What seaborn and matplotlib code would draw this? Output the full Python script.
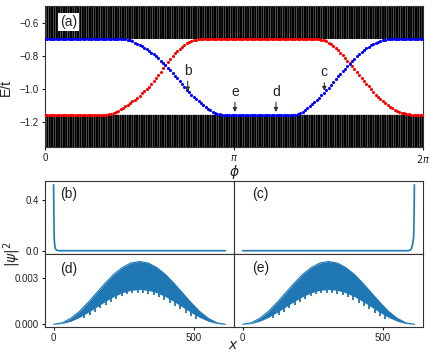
import numpy as np
import matplotlib
matplotlib.use("Agg")
import matplotlib.pyplot as plt
import seaborn as sns

# ---------------- data ----------------
phi_pi = np.linspace(0, 2, 161)          # phase grid, in units of pi

E_blue = ([-0.697] * 34 +
          [-0.698, -0.701, -0.706, -0.712, -0.719, -0.726, -0.733, -0.741, -0.749, -0.758,
           -0.768, -0.779, -0.790, -0.802, -0.814, -0.828, -0.842, -0.856, -0.871, -0.887,
           -0.903, -0.919, -0.935, -0.953, -0.971, -0.989, -1.006, -1.021, -1.036, -1.050,
           -1.063, -1.076, -1.088, -1.100, -1.111, -1.120, -1.129, -1.137, -1.144, -1.149,
           -1.153, -1.156] +
          [-1.157] * 30 +
          [-1.155, -1.152, -1.145, -1.137, -1.128, -1.116, -1.103, -1.091, -1.078, -1.065,
           -1.052, -1.037, -1.022, -1.007, -0.992, -0.975, -0.957, -0.940, -0.922, -0.907,
           -0.892, -0.877, -0.862, -0.847, -0.832, -0.817, -0.802, -0.789, -0.776, -0.763,
           -0.751, -0.743, -0.735, -0.728, -0.721, -0.715, -0.710, -0.706, -0.703, -0.700,
           -0.698] +
          [-0.697] * 14)

E_red = ([-1.157] * 26 +
         [-1.156, -1.153, -1.149, -1.144, -1.138, -1.131, -1.123, -1.115, -1.106, -1.097,
          -1.087, -1.076, -1.064, -1.052, -1.040, -1.027, -1.014, -1.000, -0.986, -0.969,
          -0.951, -0.933, -0.915, -0.895, -0.875, -0.855, -0.836, -0.818, -0.801, -0.785,
          -0.770, -0.757, -0.745, -0.733, -0.723, -0.715, -0.709, -0.704, -0.701, -0.698] +
         [-0.697] * 50 +
         [-0.699, -0.702, -0.706, -0.712, -0.720, -0.729, -0.740, -0.752, -0.766, -0.780,
          -0.795, -0.811, -0.828, -0.845, -0.862, -0.879, -0.896, -0.914, -0.932, -0.950,
          -0.968, -0.985, -1.002, -1.018, -1.034, -1.048, -1.062, -1.075, -1.087, -1.098,
          -1.108, -1.118, -1.126, -1.133, -1.139, -1.144, -1.148, -1.151, -1.154, -1.156] +
         [-1.157] * 5)

bulk_upper = (-0.697, -0.40)     # upper bulk band (bottom edge, beyond view)
bulk_lower = (-1.45, -1.157)     # lower bulk band (beyond view, top edge)

# arrows: label, phi (pi units), text E, tip E
arrow_labels = ["b", "c", "d", "e"]
arrow_phi = [0.755, 1.478, 1.222, 1.005]
arrow_text_E = [-0.891, -0.900, -1.018, -1.018]
arrow_tip_E = [-1.016, -1.012, -1.140, -1.140]

# (b) and (c) edge states
site_b = [0, 1, 2, 3, 4, 6, 8, 12, 16, 22, 612]
psi_b = [0.52, 0.30, 0.12, 0.07, 0.045, 0.02, 0.01, 0.003, 0.001, 0.0, 0.0]
site_c = [0, 590, 597, 601, 605, 609, 610, 611, 612]
psi_c = [0.0, 0.0, 0.005, 0.015, 0.045, 0.10, 0.16, 0.30, 0.52]

# (d) and (e) bulk states: envelopes of the fast oscillation
site_env = [0, 31, 61, 92, 122, 153, 184, 214, 245, 275, 306,
            337, 367, 398, 428, 459, 490, 520, 551, 581, 612]
psi_d_upper = [0, 0.00010, 0.00039, 0.00084, 0.00141, 0.00205, 0.00269, 0.00326, 0.00371, 0.00400, 0.00410,
               0.00400, 0.00371, 0.00326, 0.00269, 0.00205, 0.00141, 0.00084, 0.00039, 0.00010, 0]
psi_d_lower = [0, 0.00005, 0.00020, 0.00045, 0.00077, 0.00113, 0.00149, 0.00181, 0.00206, 0.00222, 0.00227,
               0.00222, 0.00206, 0.00181, 0.00149, 0.00113, 0.00077, 0.00045, 0.00020, 0.00005, 0]
psi_e_upper = list(psi_d_upper)
psi_e_lower = list(psi_d_lower)

spike_site = [110, 129, 148, 167, 186, 205, 224, 243, 262, 281, 300,
              319, 338, 357, 376, 395, 414, 433, 452, 471, 490, 509]
spike_d_bottom = [0.00043, 0.00062, 0.00083, 0.00105, 0.00127, 0.00148, 0.00167, 0.00183, 0.00195, 0.00203, 0.00207,
                  0.00206, 0.00201, 0.00192, 0.00178, 0.00161, 0.00141, 0.00119, 0.00097, 0.00075, 0.00055, 0.00037]
spike_e_bottom = list(spike_d_bottom)

# ---------------- style ----------------
sns.set_style("ticks")
plt.rcParams["font.family"] = ["Liberation Sans", "DejaVu Sans"]
plt.rcParams.update({
    "xtick.labelsize": 7, "ytick.labelsize": 7,
    "axes.labelsize": 10,
    "xtick.major.size": 2.5, "ytick.major.size": 2.5,
    "xtick.major.pad": 1.5, "ytick.major.pad": 2,
    "xtick.major.width": 0.8, "ytick.major.width": 0.8,
    "axes.linewidth": 0.8,
    "axes.edgecolor": "#333333",
    "xtick.color": "#222222", "ytick.color": "#222222",
    "text.color": "#222222", "axes.labelcolor": "#222222",
})

W, H = 436, 355
fig = plt.figure(figsize=(W / 100, H / 100), dpi=100)


def axes_px(x0, x1, y0, y1):
    return fig.add_axes([x0 / W, (H - y1) / H, (x1 - x0) / W, (y1 - y0) / H])


# ---------------- panel (a) ----------------
ax = axes_px(45, 423, 6, 147)
phi = phi_pi * np.pi
for lo, hi in (bulk_upper, bulk_lower):
    lc = ax.vlines(phi, lo, hi, color="black", lw=1.6, zorder=1)
    lc.set_snap(False)
sns.scatterplot(x=phi, y=E_red, color="#ff0000", s=5, linewidth=0, ax=ax, zorder=3)
sns.scatterplot(x=phi, y=E_blue, color="#0000ff", s=5, linewidth=0, ax=ax, zorder=3)
for lab, p, et, tip in zip(arrow_labels, arrow_phi, arrow_text_E, arrow_tip_E):
    ax.annotate(lab, xy=(p * np.pi, tip), xytext=(p * np.pi, et),
                ha="center", va="center", fontsize=10, color="#222222",
                arrowprops=dict(arrowstyle="-|>", color="#333333", lw=0.8,
                                mutation_scale=6, shrinkA=0, shrinkB=0))
ax.set_xlim(0, 2 * np.pi)
ax.set_ylim(-1.352, -0.497)
ax.set_xticks([0, np.pi, 2 * np.pi])
ax.set_xticklabels(["0", r"$\pi$", r"$2\pi$"])
ax.set_yticks([-1.2, -1.0, -0.8, -0.6])
ax.set_xlabel(r"$\phi$", labelpad=-1)
ax.set_ylabel("E/t")
ax.yaxis.set_label_coords(-0.085, 0.42)
ax.text(0.04, 0.887, "(a)", transform=ax.transAxes, fontsize=10, va="center", ha="left",
        bbox=dict(facecolor="white", edgecolor="none", pad=1.2), zorder=5)

# ---------------- bottom panels ----------------
ax_b = axes_px(45, 234, 181, 254)
ax_c = axes_px(234, 423, 181, 254)
ax_d = axes_px(45, 234, 254, 327)
ax_e = axes_px(234, 423, 254, 327)
blue = "#1f77b4"

sns.lineplot(x=site_b, y=psi_b, color=blue, lw=1.2, ax=ax_b)
sns.lineplot(x=site_c, y=psi_c, color=blue, lw=1.2, ax=ax_c)

for a, up, lo, sb in [(ax_d, psi_d_upper, psi_d_lower, spike_d_bottom),
                      (ax_e, psi_e_upper, psi_e_lower, spike_e_bottom)]:
    a.fill_between(site_env, lo, up, color=blue, lw=0)
    sns.lineplot(x=site_env, y=up, color=blue, lw=0.8, ax=a)
    a.vlines(spike_site, sb, np.array(sb) + 0.0004, color=blue, lw=1.3)

for a in (ax_b, ax_c, ax_d, ax_e):
    a.set_xlim(-30.6, 642.6)
    a.set_xlabel("")
    a.set_ylabel("")
for a in (ax_b, ax_c):
    a.set_ylim(-0.026, 0.55)
    a.tick_params(bottom=False, labelbottom=False)
for a in (ax_d, ax_e):
    a.set_ylim(-0.000176, 0.00459)
    a.set_xticks([0, 500])
for a in (ax_c, ax_e):
    a.tick_params(left=False, labelleft=False)
ax_b.set_yticks([0.0, 0.4])
ax_b.set_yticklabels(["0.0", "0.4"])
ax_d.set_yticks([0.0, 0.003])
ax_d.set_yticklabels(["0.000", "0.003"])

for a, lab, yy, xx in [(ax_b, "(b)", 0.82, 0.079), (ax_c, "(c)", 0.82, 0.095),
                       (ax_d, "(d)", 0.80, 0.079), (ax_e, "(e)", 0.81, 0.095)]:
    a.text(xx, yy, lab, transform=a.transAxes, fontsize=10, va="center", ha="left")

fig.text(12 / W, (H - 254) / H, r"$|\psi|^2$", rotation=90, fontsize=10,
         ha="center", va="center")
fig.text(233 / W, (H - 345) / H, r"$x$", fontsize=10, ha="center", va="center")

fig.savefig("out.png", dpi=100)
